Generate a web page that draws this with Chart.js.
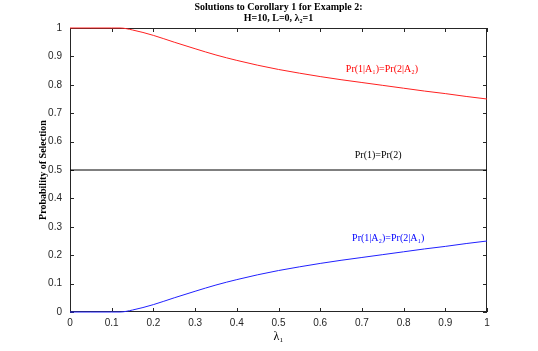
<!DOCTYPE html>
<html>
<head>
<meta charset="utf-8">
<script src="https://cdn.jsdelivr.net/npm/chart.js@4"></script>
<style>
  html, body { margin: 0; padding: 0; background: #fff; }
  #wrap { width: 538px; height: 351px; }
</style>
</head>
<body>
<div id="wrap"><canvas id="chart" width="538" height="351"></canvas></div>
<script>
// lambda_1 sample points
const lambdas = [0, 0.05, 0.1, 0.12, 0.15, 0.2, 0.25, 0.3, 0.35, 0.4, 0.45, 0.5, 0.55, 0.6, 0.65, 0.7, 0.75, 0.8, 0.85, 0.9, 0.95, 1.0];
// Pr(1|A1)=Pr(2|A2)
const sameVals = [1, 1, 1, 1, 0.993, 0.974, 0.95, 0.927, 0.905, 0.886, 0.869, 0.854, 0.841, 0.829, 0.818, 0.808, 0.798, 0.788, 0.778, 0.769, 0.759, 0.75];
// Pr(1|A2)=Pr(2|A1)
const crossVals = [0, 0, 0, 0, 0.007, 0.026, 0.05, 0.073, 0.095, 0.114, 0.131, 0.146, 0.159, 0.171, 0.182, 0.192, 0.202, 0.212, 0.222, 0.231, 0.241, 0.25];
// Pr(1)=Pr(2)
const equalLine = [0.5, 0.5];
const xTicks = [0, 0.1, 0.2, 0.3, 0.4, 0.5, 0.6, 0.7, 0.8, 0.9, 1];

const titleLines = ["Solutions to Corollary 1 for Example 2:", "H=10, L=0, λ₂=1"];
const labels = [
  { text: "Pr(1|A₁)=Pr(2|A₂)", x: 0.748, y: 0.855, color: "#ff0000" },
  { text: "Pr(1)=Pr(2)", x: 0.739, y: 0.553, color: "#000000" },
  { text: "Pr(1|A₂)=Pr(2|A₁)", x: 0.763, y: 0.26, color: "#0000ff" }
];

const pts = (xs, ys) => xs.map((x, i) => ({ x, y: ys[i] }));

// box + inward ticks drawn under the lines, text on top
const matlabLook = {
  id: "matlabLook",
  beforeDatasetsDraw(chart) {
    const { ctx, chartArea: a, scales } = chart;
    const sx = scales.x, sy = scales.y;
    ctx.save();
    ctx.strokeStyle = "#262626";
    ctx.lineWidth = 1;
    ctx.strokeRect(a.left + 0.5, a.top + 0.5, a.right - a.left - 1, a.bottom - a.top - 1);
    ctx.beginPath();
    xTicks.forEach((v) => {
      const px = Math.round(sx.getPixelForValue(v)) + 0.5;
      ctx.moveTo(px, a.bottom); ctx.lineTo(px, a.bottom - 4);
      ctx.moveTo(px, a.top); ctx.lineTo(px, a.top + 4);
    });
    xTicks.forEach((v) => {
      const py = Math.round(sy.getPixelForValue(v)) + 0.5;
      ctx.moveTo(a.left, py); ctx.lineTo(a.left + 4, py);
      ctx.moveTo(a.right, py); ctx.lineTo(a.right - 4, py);
    });
    ctx.stroke();
    ctx.restore();
  },
  afterDraw(chart) {
    const { ctx, chartArea: a, scales } = chart;
    const sx = scales.x, sy = scales.y;
    ctx.save();
    ctx.fillStyle = "#000";
    ctx.textAlign = "center";
    ctx.textBaseline = "middle";
    ctx.font = "bold 10px 'Liberation Serif'";
    ctx.fillText(titleLines[0], (a.left + a.right) / 2, 7);
    ctx.fillText(titleLines[1], (a.left + a.right) / 2, 18);

    ctx.font = "10px 'Liberation Serif'";
    labels.forEach((l) => {
      ctx.fillStyle = l.color;
      ctx.fillText(l.text, sx.getPixelForValue(l.x), sy.getPixelForValue(l.y));
    });

    ctx.fillStyle = "#000";
    ctx.font = "12px 'Liberation Serif'";
    ctx.fillText("λ₁", (a.left + a.right) / 2, 337);

    ctx.translate(43, (a.top + a.bottom) / 2);
    ctx.rotate(-Math.PI / 2);
    ctx.font = "bold 10px 'Liberation Serif'";
    ctx.fillText("Probability of Selection", 0, 0);
    ctx.restore();
  }
};

new Chart(document.getElementById("chart"), {
  type: "line",
  data: {
    datasets: [
      { data: pts([0, 1], equalLine), borderColor: "#000000", borderWidth: 1, pointRadius: 0 },
      { data: pts(lambdas, sameVals), borderColor: "#ff2020", borderWidth: 1, pointRadius: 0, cubicInterpolationMode: "monotone", clip: false },
      { data: pts(lambdas, crossVals), borderColor: "#2020ff", borderWidth: 1, pointRadius: 0, cubicInterpolationMode: "monotone", clip: false }
    ]
  },
  options: {
    responsive: false,
    animation: false,
    events: [],
    layout: { padding: { left: 0, right: 51, top: 28, bottom: 0 } },
    plugins: { legend: { display: false }, title: { display: false }, tooltip: { enabled: false } },
    scales: {
      x: {
        type: "linear", min: 0, max: 1,
        afterBuildTicks: (s) => { s.ticks = xTicks.map((v) => ({ value: v })); },
        afterFit: (s) => { s.height = 39; },
        grid: { display: false, drawTicks: false },
        border: { display: false },
        ticks: { color: "#262626", font: { family: "Liberation Sans", size: 10 }, padding: 5, maxRotation: 0,
          callback: (v) => String(Math.round(v * 10) / 10) }
      },
      y: {
        min: 0, max: 1,
        afterBuildTicks: (s) => { s.ticks = xTicks.map((v) => ({ value: v })); },
        afterFit: (s) => { s.width = 70; },
        grid: { display: false, drawTicks: false },
        border: { display: false },
        ticks: { color: "#262626", font: { family: "Liberation Sans", size: 10 }, padding: 8,
          callback: (v) => String(Math.round(v * 10) / 10) }
      }
    }
  },
  plugins: [matlabLook]
});
</script>
</body>
</html>
